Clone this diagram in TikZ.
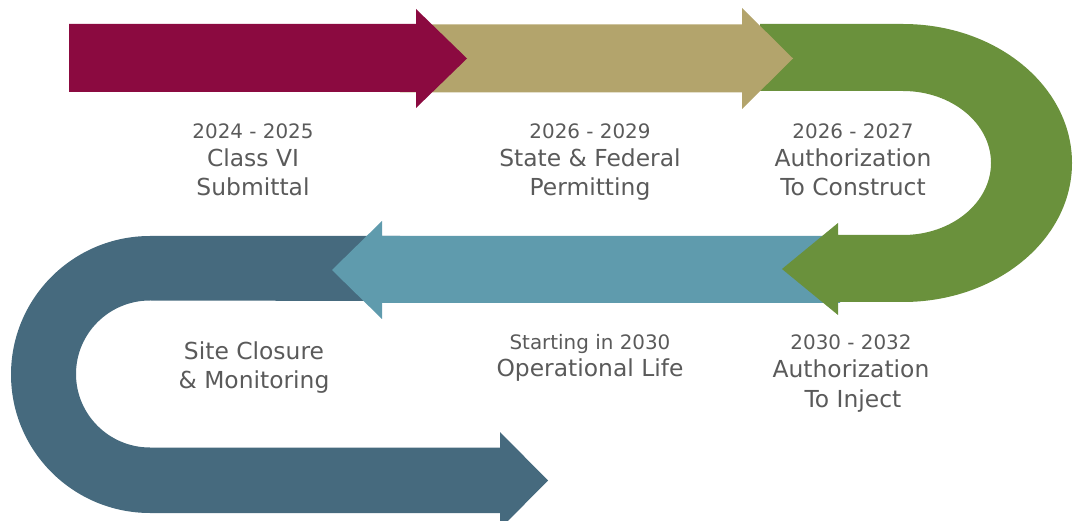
\documentclass[tikz,border=0pt]{standalone}
\usepackage{fontspec}
\setmainfont{DejaVu Sans}
\definecolor{cmaroon}{HTML}{8B0A40}
\definecolor{ctan}{HTML}{B3A46C}
\definecolor{cgreen}{HTML}{6A913C}
\definecolor{cteal}{HTML}{5F9BAD}
\definecolor{cslate}{HTML}{466A7E}
\definecolor{ctext}{HTML}{5A5A5A}
\begin{document}
\begin{tikzpicture}[x=1pt,y=-1pt,
  band/.style={draw=none},
  small/.style={anchor=base,inner sep=0pt,text=ctext,font=\fontsize{19.9}{24}\selectfont},
  large/.style={anchor=base,inner sep=0pt,text=ctext,font=\fontsize{23.4}{28}\selectfont}]
\useasboundingbox (0,0) rectangle (1077,521);
\clip (0,0) rectangle (1077,521);
% slate (bottom U)
\fill[cslate,band] (400,236) -- (150,236) arc[start angle=-90,end angle=-270,x radius=139,y radius=138.5]
  -- (500,513) -- (500,529) -- (548,480.5) -- (500,432) -- (500,447.5) -- (150,447.5)
  arc[start angle=90,end angle=270,x radius=74,y radius=73.5] -- (400,301) -- cycle;
% teal
\fill[cteal,band] (382,236) -- (840,236) -- (840,303) -- (382,303) -- (382,319) -- (332,270) -- (382,221) -- cycle;
% green (right U)
\fill[cgreen,band] (760,24) -- (903,24) arc[start angle=-90,end angle=90,x radius=169,y radius=139]
  -- (838,302) -- (838,315) -- (782,269) -- (838,223) -- (838,235) -- (903,235)
  arc[start angle=90,end angle=-90,x radius=88,y radius=72] -- (760,91) -- cycle;
% tan
\fill[ctan,band] (400,24.5) -- (742,24.5) -- (742,8) -- (793,58.5) -- (742,109) -- (742,92.5) -- (400,92.5) -- cycle;
% maroon
\fill[cmaroon,band] (69,24) -- (416,24) -- (416,9) -- (467,58.5) -- (416,108) -- (416,92) -- (69,92) -- cycle;
% labels
\node[small] (a1) at (253,139) {2024 - 2025};
\node[large] (a2) at (253,167) {Class VI};
\node[large] (a3) at (253,195.5) {Submittal};
\node[small] (b1) at (590,139) {2026 - 2029};
\node[large] (b2) at (590,167) {State \& Federal};
\node[large] (b3) at (590,195.5) {Permitting};
\node[small] (c1) at (853,139) {2026 - 2027};
\node[large] (c2) at (853,167) {Authorization};
\node[large] (c3) at (853,195.5) {To Construct};
\node[large] (d1) at (254,359.5) {Site Closure};
\node[large] (d2) at (254,388.5) {\& Monitoring};
\node[small] (e1) at (590,350) {Starting in 2030};
\node[large] (e2) at (590,376.5) {Operational Life};
\node[small] (f1) at (851,350) {2030 - 2032};
\node[large] (f2) at (851,377.5) {Authorization};
\node[large] (f3) at (853,407.5) {To Inject};
\end{tikzpicture}
\end{document}
